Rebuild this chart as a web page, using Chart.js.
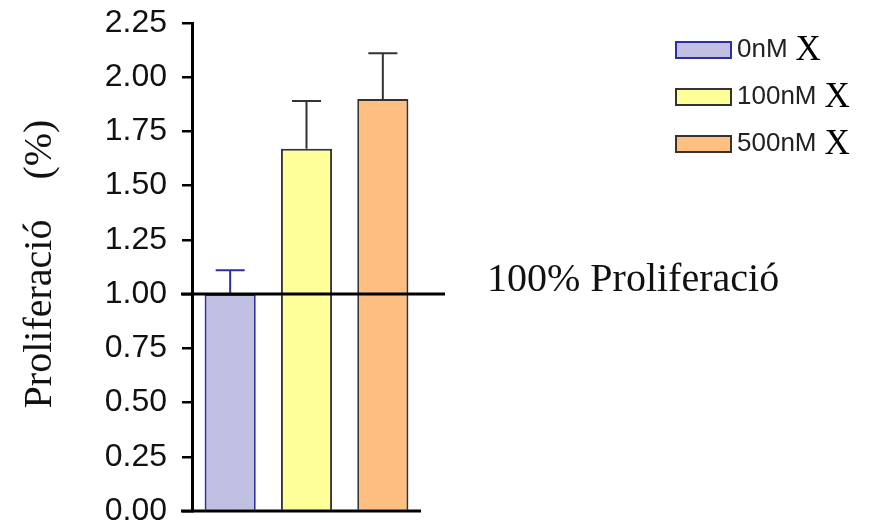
<!DOCTYPE html>
<html>
<head>
<meta charset="utf-8">
<script src="https://cdn.jsdelivr.net/npm/chart.js@4.4.1/dist/chart.umd.min.js"></script>
<style>
  html, body { margin: 0; padding: 0; background: #fff; }
  #wrap { width: 875px; height: 528px; }
</style>
</head>
<body>
<div id="wrap"><canvas id="grafico"></canvas></div>
<script>
// dades
const categories = ["0nM", "100nM", "500nM"];
const meanValues = [1.00, 1.67, 1.90];
const errorValues = [0.11, 0.22, 0.21];
const legendSuffix = "X";
const axisTitle = "Proliferació    (%)";
const refValue = 1.0;
const refLabel = "100% Proliferació";

const fillColors = ["#c0c0e2", "#ffff99", "#ffbf80"];
const edgeColors = ["#2e2e9e", "#333333", "#333333"];

const sans = "'Liberation Sans', Arial, sans-serif";
const serif = "'Liberation Serif', serif";

// un dataset per concentració, null a les altres categories
const datasets = categories.map(function (name, i) {
    return {
        label: name,
        data: categories.map(function (c, j) { return j === i ? meanValues[i] : null; }),
        backgroundColor: fillColors[i],
        borderColor: edgeColors[i],
        borderWidth: 2,
        errors: categories.map(function (c, j) { return j === i ? errorValues[i] : null; })
    };
});

const extres = {
    id: "extres",
    afterDatasetsDraw(chart) {
        const ctx = chart.ctx;
        const x = chart.scales.x;
        const y = chart.scales.y;
        ctx.save();

        // barres d'error
        chart.data.datasets.forEach(function (ds, i) {
            const meta = chart.getDatasetMeta(i);
            meta.data.forEach(function (bar, j) {
                if (ds.data[j] == null) return;
                const top = y.getPixelForValue(ds.data[j] + ds.errors[j]);
                ctx.strokeStyle = ds.borderColor;
                ctx.lineWidth = 2;
                ctx.beginPath();
                ctx.moveTo(bar.x, bar.y);
                ctx.lineTo(bar.x, top);
                ctx.moveTo(bar.x - 14.5, top);
                ctx.lineTo(bar.x + 14.5, top);
                ctx.stroke();
            });
        });

        // línia de referència
        const yRef = y.getPixelForValue(refValue);
        ctx.strokeStyle = "#000";
        ctx.lineWidth = 3;
        ctx.beginPath();
        ctx.moveTo(x.left - 11, yRef);
        ctx.lineTo(x.right + 24, yRef);
        ctx.stroke();

        // eix x
        const yZero = y.getPixelForValue(0);
        ctx.beginPath();
        ctx.moveTo(x.left - 11, yZero);
        ctx.lineTo(x.right, yZero);
        ctx.stroke();

        ctx.fillStyle = "#111";
        ctx.textBaseline = "alphabetic";
        ctx.textAlign = "left";
        ctx.font = "40px " + serif;
        ctx.fillText(refLabel, x.right + 66, yRef - 3);

        // títol eix y
        ctx.save();
        ctx.translate(40, 264);
        ctx.rotate(-Math.PI / 2);
        ctx.textAlign = "center";
        ctx.textBaseline = "middle";
        ctx.font = "40px " + serif;
        ctx.fillText(axisTitle, 0, 0);
        ctx.restore();

        // llegenda
        chart.data.datasets.forEach(function (ds, i) {
            const cy = 50 + i * 47;
            ctx.fillStyle = ds.backgroundColor;
            ctx.fillRect(676, cy - 8, 55, 16);
            ctx.strokeStyle = ds.borderColor;
            ctx.lineWidth = 2;
            ctx.strokeRect(676, cy - 8, 55, 16);
            ctx.fillStyle = "#222";
            ctx.textAlign = "left";
            ctx.textBaseline = "middle";
            ctx.font = "26px " + sans;
            ctx.fillText(ds.label, 737, cy);
            const w = ctx.measureText(ds.label).width;
            ctx.fillStyle = "#000";
            ctx.font = "35px " + serif;
            ctx.fillText(legendSuffix, 737 + w + 8, cy + 1);
        });
        ctx.restore();
    }
};

new Chart(document.getElementById("grafico"), {
    type: "bar",
    data: { labels: categories, datasets: datasets },
    plugins: [extres],
    options: {
        responsive: true,
        maintainAspectRatio: false,
        animation: false,
        layout: { padding: { left: 0, right: 454, top: 0, bottom: 0 } },
        datasets: {
            bar: { categoryPercentage: 1, barPercentage: 0.67, skipNull: true }
        },
        plugins: {
            legend: { display: false },
            tooltip: { enabled: false }
        },
        scales: {
            x: {
                ticks: { display: false },
                grid: { display: false },
                border: { display: false },
                afterFit: function (scale) { scale.height = 0; }
            },
            y: {
                min: 0,
                max: 2.25,
                ticks: {
                    stepSize: 0.25,
                    padding: 15,
                    color: "#111",
                    font: { family: sans, size: 32, lineHeight: 1 },
                    callback: function (v) { return v.toFixed(2); }
                },
                grid: {
                    drawOnChartArea: false,
                    drawTicks: true,
                    tickLength: 10,
                    color: "#000",
                    lineWidth: 2.5
                },
                border: { display: true, color: "#000", width: 3 },
                afterFit: function (scale) {
                    scale.width = 192;
                    scale.paddingTop = 23;
                    scale.paddingBottom = 17;
                }
            }
        }
    }
});
</script>
</body>
</html>
